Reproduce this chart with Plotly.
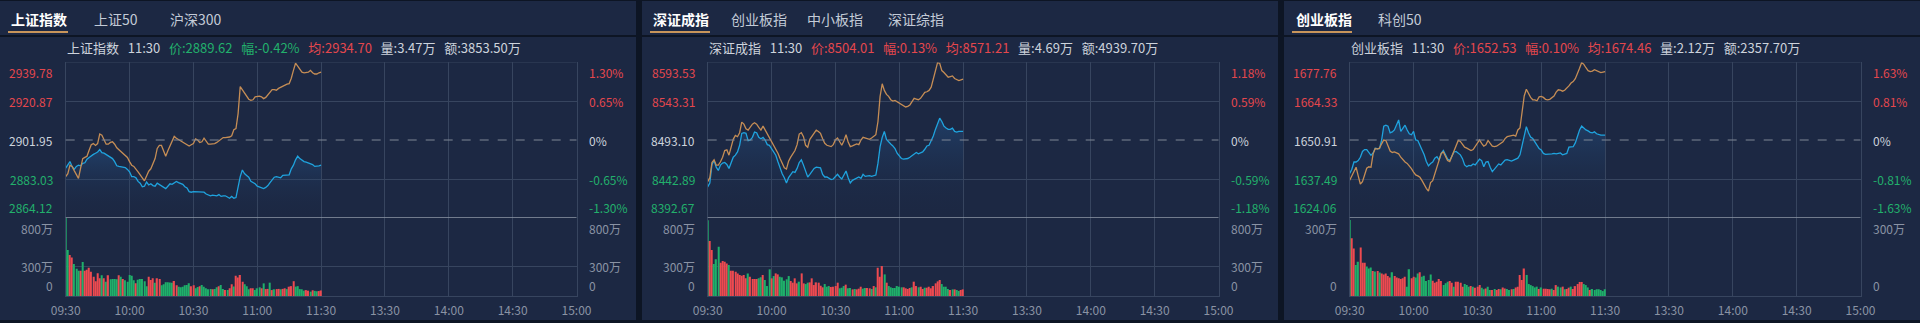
import plotly.graph_objects as go

# ---------------- data ----------------
MINUTES = list(range(121))                     # 09:30 .. 11:30, one point per minute
TIME_TICKS = [0, 30, 60, 90, 120, 150, 180, 210, 240]
TIME_LABELS = ['09:30', '10:00', '10:30', '11:00', '11:30', '13:30', '14:00', '14:30', '15:00']

# ---- 上证指数 ----
SH_TABS = ['上证指数', '上证50', '沪深300']
SH_INFO = ['上证指数', '11:30', '2889.62', '-0.42%', '2934.70', '3.47万', '3853.50万']
SH_PRICE_LABELS = ['2939.78', '2920.87', '2901.95', '2883.03', '2864.12']
SH_PCT_LABELS = ['1.30%', '0.65%', '0%', '-0.65%', '-1.30%']
SH_PCT_LEVELS = [1.30, 0.65, 0.0, -0.65, -1.30]
SH_PRICE_PCT = [
    -0.47, -0.42, -0.36, -0.44, -0.49, -0.44, -0.42, -0.43, -0.39, -0.38,
    -0.32, -0.29, -0.26, -0.24, -0.22, -0.20, -0.16, -0.21, -0.22, -0.24,
    -0.26, -0.29, -0.31, -0.36, -0.43, -0.44, -0.45, -0.46, -0.46, -0.49,
    -0.53, -0.61, -0.61, -0.63, -0.69, -0.72, -0.78, -0.77, -0.70, -0.75,
    -0.73, -0.76, -0.77, -0.72, -0.74, -0.76, -0.78, -0.81, -0.77, -0.73,
    -0.74, -0.71, -0.69, -0.71, -0.72, -0.74, -0.78, -0.80, -0.86, -0.87,
    -0.86, -0.86, -0.87, -0.86, -0.86, -0.87, -0.90, -0.92, -0.93, -0.92,
    -0.93, -0.93, -0.91, -0.94, -0.93, -0.93, -0.95, -0.97, -0.94, -0.97,
    -0.96, -0.77, -0.61, -0.50, -0.56, -0.59, -0.62, -0.69, -0.71, -0.73,
    -0.77, -0.78, -0.80, -0.81, -0.79, -0.76, -0.71, -0.67, -0.62, -0.61,
    -0.62, -0.63, -0.59, -0.59, -0.59, -0.58, -0.48, -0.42, -0.33, -0.27,
    -0.31, -0.34, -0.36, -0.37, -0.38, -0.39, -0.41, -0.44, -0.44, -0.43,
    -0.42]
SH_AVG_PCT = [
    -0.61, -0.56, -0.42, -0.44, -0.51, -0.58, -0.64, -0.47, -0.31, -0.29,
    -0.27, -0.17, -0.08, -0.06, -0.09, -0.06, 0.10, 0.08, 0.01, -0.07,
    -0.07, -0.04, -0.03, -0.07, -0.13, -0.16, -0.19, -0.23, -0.26, -0.29,
    -0.36, -0.42, -0.44, -0.48, -0.53, -0.58, -0.64, -0.68, -0.60, -0.52,
    -0.48, -0.39, -0.31, -0.14, -0.09, -0.09, -0.17, -0.27, -0.18, -0.10,
    -0.01, 0.06, 0.03, 0.01, -0.01, -0.03, -0.06, -0.08, -0.10, -0.08,
    -0.06, 0.02, 0.00, -0.04, -0.03, 0.03, -0.03, -0.07, -0.07, -0.07,
    -0.06, -0.04, -0.01, 0.02, 0.04, 0.04, 0.04, 0.05, 0.07, 0.17,
    0.19, 0.44, 0.89, 0.84, 0.77, 0.72, 0.68, 0.66, 0.67, 0.72,
    0.73, 0.73, 0.72, 0.69, 0.71, 0.76, 0.79, 0.84, 0.84, 0.83,
    0.86, 0.88, 0.90, 0.92, 0.93, 0.94, 1.03, 1.16, 1.28, 1.23,
    1.18, 1.13, 1.12, 1.12, 1.13, 1.16, 1.12, 1.10, 1.10, 1.12,
    1.13]
SH_VOL = [
    790, 465, 415, 390, 325, 275, 255, 255, 345, 255,
    265, 285, 245, 195, 150, 230, 180, 210, 180, 145,
    210, 170, 172, 172, 170, 210, 195, 172, 160, 145,
    212, 205, 160, 128, 165, 172, 172, 150, 100, 195,
    162, 180, 135, 180, 172, 110, 120, 138, 138, 136,
    135, 152, 110, 94, 88, 94, 110, 112, 128, 100,
    110, 78, 90, 100, 112, 94, 78, 68, 70, 68,
    70, 88, 100, 112, 70, 60, 62, 78, 120, 95,
    205, 188, 212, 145, 120, 100, 68, 78, 78, 60,
    78, 88, 78, 128, 70, 72, 135, 60, 68, 70,
    72, 68, 72, 78, 70, 94, 100, 150, 95, 100,
    70, 68, 54, 60, 54, 44, 58, 52, 48, 50,
    56]
SH_DIR = ("ggrrgggrgr" "rrrrrrrgrg" "rggggrgrgg" "gggrgggggr" "rrgrrggggg" "grrggggggr"
          "rggrgggggr" "ggrggrgrrg" "rrrrgggrrg" "ggrgrrgrgr" "rgrrgrrrgg" "gggrrgrggr" "r")
SH_VOL_LEVELS = [0, 300, 790]
SH_VOL_LABELS = ['0', '300万', '800万']

# ---- 深证成指 ----
SZ_TABS = ['深证成指', '创业板指', '中小板指', '深证综指']
SZ_INFO = ['深证成指', '11:30', '8504.01', '0.13%', '8571.21', '4.69万', '4939.70万']
SZ_PRICE_LABELS = ['8593.53', '8543.31', '8493.10', '8442.89', '8392.67']
SZ_PCT_LABELS = ['1.18%', '0.59%', '0%', '-0.59%', '-1.18%']
SZ_PCT_LEVELS = [1.18, 0.59, 0.0, -0.59, -1.18]
SZ_PRICE_PCT = [
    -0.71, -0.65, -0.37, -0.31, -0.41, -0.46, -0.38, -0.35, -0.34, -0.37,
    -0.43, -0.33, -0.26, -0.23, -0.18, -0.08, 0.10, 0.11, 0.10, -0.01,
    0.00, 0.04, 0.12, 0.11, 0.04, 0.02, 0.04, 0.00, -0.07, -0.08,
    -0.13, -0.18, -0.23, -0.33, -0.43, -0.51, -0.57, -0.65, -0.57, -0.52,
    -0.48, -0.49, -0.43, -0.34, -0.30, -0.38, -0.46, -0.56, -0.52, -0.47,
    -0.43, -0.41, -0.41, -0.42, -0.52, -0.56, -0.56, -0.58, -0.60, -0.59,
    -0.56, -0.52, -0.56, -0.59, -0.53, -0.47, -0.57, -0.65, -0.61, -0.59,
    -0.57, -0.56, -0.58, -0.52, -0.55, -0.54, -0.54, -0.55, -0.54, -0.53,
    -0.35, -0.10, 0.04, 0.13, 0.01, -0.03, -0.06, -0.09, -0.13, -0.20,
    -0.25, -0.28, -0.29, -0.29, -0.28, -0.26, -0.24, -0.21, -0.19, -0.21,
    -0.20, -0.18, -0.14, -0.09, -0.08, -0.02, 0.06, 0.16, 0.25, 0.33,
    0.28, 0.21, 0.18, 0.16, 0.16, 0.18, 0.13, 0.12, 0.13, 0.13,
    0.13]
SZ_AVG_PCT = [
    -0.63, -0.57, -0.34, -0.30, -0.38, -0.38, -0.33, -0.26, -0.16, -0.15,
    -0.23, -0.11, 0.01, 0.07, 0.05, 0.11, 0.27, 0.24, 0.17, 0.15,
    0.20, 0.24, 0.26, 0.24, 0.19, 0.15, 0.21, 0.15, 0.09, 0.04,
    -0.01, -0.08, -0.14, -0.20, -0.28, -0.34, -0.42, -0.44, -0.32, -0.26,
    -0.21, -0.16, -0.07, 0.09, 0.11, 0.05, -0.08, -0.11, 0.01, 0.06,
    0.11, 0.15, 0.13, 0.10, 0.02, -0.05, -0.08, -0.09, -0.10, -0.07,
    0.00, 0.03, -0.03, -0.08, -0.01, 0.08, -0.03, -0.10, -0.09, -0.08,
    -0.06, -0.07, 0.00, 0.04, 0.03, 0.01, 0.01, 0.03, 0.06, 0.08,
    0.28, 0.66, 0.85, 0.75, 0.69, 0.66, 0.61, 0.59, 0.60, 0.58,
    0.57, 0.54, 0.53, 0.50, 0.51, 0.53, 0.58, 0.63, 0.62, 0.61,
    0.63, 0.68, 0.72, 0.73, 0.75, 0.80, 0.92, 1.06, 1.17, 1.16,
    1.05, 1.02, 0.98, 0.95, 0.96, 0.97, 0.93, 0.91, 0.90, 0.91,
    0.92]
SZ_VOL = [
    768, 556, 465, 324, 371, 499, 337, 354, 347, 330,
    313, 256, 256, 246, 229, 212, 206, 212, 179, 229,
    195, 172, 172, 172, 179, 189, 212, 162, 101, 270,
    179, 202, 229, 219, 195, 189, 155, 169, 202, 152,
    135, 179, 128, 145, 229, 128, 121, 135, 138, 179,
    111, 138, 135, 104, 88, 121, 94, 101, 91, 94,
    101, 135, 78, 84, 101, 115, 78, 81, 67, 71,
    67, 74, 94, 74, 81, 81, 78, 71, 101, 88,
    286, 195, 303, 219, 135, 101, 88, 81, 81, 101,
    94, 88, 88, 78, 71, 81, 88, 145, 101, 88,
    94, 71, 84, 84, 94, 78, 101, 128, 148, 162,
    121, 94, 94, 71, 61, 67, 67, 61, 51, 61,
    67]
SZ_DIR = ("grrgggrrrr" "grrrrrrrrg" "rrrrggrggg" "rgrrgggggr" "rrrgrrggrr" "rrrrrgggrr"
          "rrgggrggrg" "rrrggrrgrg" "rrrgrggggg" "ggrrrrgrrg" "rrgrrrrrrr" "ggggrgrggr" "r")
SZ_VOL_LEVELS = [0, 300, 790]
SZ_VOL_LABELS = ['0', '300万', '800万']

# ---- 创业板指 ----
CY_TABS = ['创业板指', '科创50']
CY_INFO = ['创业板指', '11:30', '1652.53', '0.10%', '1674.46', '2.12万', '2357.70万']
CY_PRICE_LABELS = ['1677.76', '1664.33', '1650.91', '1637.49', '1624.06']
CY_PCT_LABELS = ['1.63%', '0.81%', '0%', '-0.81%', '-1.63%']
CY_PCT_LEVELS = [1.63, 0.815, 0.0, -0.815, -1.63]
CY_PRICE_PCT = [
    -0.70, -0.61, -0.46, -0.46, -0.43, -0.36, -0.24, -0.20, -0.20, -0.25,
    -0.32, -0.27, -0.17, -0.18, -0.18, 0.00, 0.29, 0.31, 0.29, 0.15,
    0.17, 0.21, 0.31, 0.42, 0.18, 0.24, 0.31, 0.21, 0.13, 0.11,
    0.18, 0.00, -0.01, -0.11, -0.20, -0.31, -0.45, -0.54, -0.49, -0.46,
    -0.38, -0.35, -0.42, -0.28, -0.22, -0.31, -0.40, -0.43, -0.34, -0.25,
    -0.24, -0.28, -0.31, -0.39, -0.52, -0.56, -0.53, -0.54, -0.50, -0.52,
    -0.46, -0.40, -0.43, -0.56, -0.46, -0.45, -0.57, -0.66, -0.61, -0.56,
    -0.50, -0.52, -0.47, -0.42, -0.41, -0.43, -0.44, -0.42, -0.40, -0.38,
    -0.31, -0.13, 0.08, 0.28, 0.15, 0.06, 0.03, -0.04, -0.13, -0.18,
    -0.21, -0.28, -0.30, -0.30, -0.29, -0.29, -0.28, -0.29, -0.28, -0.27,
    -0.31, -0.30, -0.28, -0.15, -0.14, -0.14, -0.06, 0.08, 0.21, 0.29,
    0.24, 0.21, 0.19, 0.16, 0.15, 0.17, 0.13, 0.11, 0.10, 0.10,
    0.10]
CY_AVG_PCT = [
    -0.84, -0.75, -0.66, -0.57, -0.75, -0.92, -0.87, -0.71, -0.59, -0.56,
    -0.57, -0.29, -0.18, -0.19, -0.17, -0.08, 0.00, -0.01, -0.13, -0.23,
    -0.26, -0.25, -0.27, -0.29, -0.36, -0.42, -0.46, -0.49, -0.54, -0.60,
    -0.67, -0.73, -0.75, -0.78, -0.85, -0.94, -1.01, -1.07, -0.89, -0.85,
    -0.71, -0.61, -0.45, -0.28, -0.25, -0.34, -0.43, -0.45, -0.34, -0.21,
    -0.08, -0.01, -0.03, -0.10, -0.15, -0.17, -0.20, -0.22, -0.20, -0.13,
    -0.07, 0.00, -0.07, -0.13, -0.10, -0.01, -0.07, -0.13, -0.14, -0.13,
    -0.10, -0.06, -0.04, 0.03, 0.07, 0.08, 0.09, 0.10, 0.08, 0.21,
    0.25, 0.63, 0.92, 1.06, 0.96, 0.89, 0.84, 0.84, 0.82, 0.90,
    0.91, 0.89, 0.85, 0.84, 0.85, 0.88, 0.92, 1.00, 1.05, 1.04,
    1.02, 1.04, 1.08, 1.13, 1.19, 1.22, 1.28, 1.38, 1.50, 1.62,
    1.58, 1.51, 1.45, 1.43, 1.44, 1.47, 1.45, 1.42, 1.41, 1.42,
    1.43]
CY_VOL = [
    292, 222, 183, 119, 132, 187, 128, 128, 113, 106,
    110, 96, 94, 96, 90, 87, 83, 87, 77, 71,
    91, 77, 71, 68, 65, 68, 74, 36, 103, 68,
    74, 71, 87, 91, 74, 78, 58, 62, 83, 59,
    51, 55, 65, 58, 42, 49, 55, 58, 51, 36,
    55, 55, 51, 36, 46, 42, 36, 38, 36, 32,
    36, 42, 32, 26, 29, 36, 23, 23, 27, 23,
    27, 26, 33, 29, 27, 23, 26, 27, 33, 36,
    81, 62, 106, 81, 46, 42, 38, 33, 36, 27,
    33, 28, 28, 27, 26, 28, 23, 42, 36, 33,
    36, 26, 27, 32, 36, 27, 38, 46, 54, 54,
    46, 42, 33, 23, 27, 23, 26, 26, 23, 19,
    26]
CY_DIR = ("grrggrrrgg" "grgrgrrrrr" "grrrrrrggr" "rggrgggggr" "rrrrgggrrg" "rrrrgggrgr"
          "rrggrggrgr" "rgrrggrgrr" "rrrggggggr" "grrrrgrrgg" "rgrrgrrrrr" "gggrgggggg" "g")
CY_VOL_LEVELS = [0, 300]
CY_VOL_LABELS = ['0', '300万']

PANELS = [
    dict(tabs=SH_TABS, info=SH_INFO, plabels=SH_PRICE_LABELS, pct_labels=SH_PCT_LABELS,
         levels=SH_PCT_LEVELS, price=SH_PRICE_PCT, avg=SH_AVG_PCT, vol=SH_VOL, dirs=SH_DIR,
         vlevels=SH_VOL_LEVELS, vlabels=SH_VOL_LABELS, tab_x=[9, 92, 168]),
    dict(tabs=SZ_TABS, info=SZ_INFO, plabels=SZ_PRICE_LABELS, pct_labels=SZ_PCT_LABELS,
         levels=SZ_PCT_LEVELS, price=SZ_PRICE_PCT, avg=SZ_AVG_PCT, vol=SZ_VOL, dirs=SZ_DIR,
         vlevels=SZ_VOL_LEVELS, vlabels=SZ_VOL_LABELS, tab_x=[9, 87, 163, 244]),
    dict(tabs=CY_TABS, info=CY_INFO, plabels=CY_PRICE_LABELS, pct_labels=CY_PCT_LABELS,
         levels=CY_PCT_LEVELS, price=CY_PRICE_PCT, avg=CY_AVG_PCT, vol=CY_VOL, dirs=CY_DIR,
         vlevels=CY_VOL_LEVELS, vlabels=CY_VOL_LABELS, tab_x=[10, 92]),
]

# ---------------- style / geometry ----------------
W, H = 1920, 323
FONT = "Microsoft YaHei, 'Noto Sans CJK SC', sans-serif"
OUTER = '#0d1524'
PANEL_BG = '#1c2843'
GRID = '#37455f'
SEP = '#8e97a6'
DASH = '#7e8796'
UP = '#ee4a50'
DOWN = '#1fb06a'
UP_TXT = '#e4474d'
DOWN_TXT = '#22b06c'
TXT = '#cdd3dc'
MUTED = '#8a93a4'
ORANGE = '#c58d55'
BLUE = '#1fa3de'
ACCENT = '#c8955a'

PANEL_W, PANEL_GAP = 636, 6
PLOT_L, PLOT_R = 65.7, 576.5
TOP_PRICE, SEP_Y, VOL_BOTTOM = 62, 218, 296
TAB_Y, HEADER_Y = 19, 48
LEFT_LABEL_X, RIGHT_LABEL_X = 55, 587


def px(x):
    return x / W


def py(y):
    return 1 - y / H


def sfx(n):
    return '' if n == 1 else str(n)


fig = go.Figure()
layout = dict(template='none', width=W, height=H, autosize=False,
              margin=dict(l=0, r=0, t=0, b=0, pad=0, autoexpand=False),
              paper_bgcolor=OUTER, plot_bgcolor='rgba(0,0,0,0)', showlegend=False,
              font=dict(family=FONT, color=TXT), hovermode=False)
shapes, annotations = [], []

for i, p in enumerate(PANELS):
    ox = i * (PANEL_W + PANEL_GAP)
    n_p, n_v = 2 * i + 1, 2 * i + 2
    xp, yp, xv, yv = 'x' + sfx(n_p), 'y' + sfx(n_p), 'x' + sfx(n_v), 'y' + sfx(n_v)
    top = max(p['levels'])
    half = p['levels'][1]
    vmax = max(p['vlevels'])
    dom_x = [px(ox + PLOT_L), px(ox + PLOT_R)]

    # panel backgrounds
    shapes.append(dict(type='rect', xref='paper', yref='paper', layer='below',
                       x0=px(ox), x1=px(ox + PANEL_W), y0=py(35), y1=py(1),
                       fillcolor=PANEL_BG, line=dict(width=0)))
    shapes.append(dict(type='rect', xref='paper', yref='paper', layer='below',
                       x0=px(ox), x1=px(ox + PANEL_W), y0=py(320), y1=py(37),
                       fillcolor=PANEL_BG, line=dict(width=0)))
    # active-tab underline
    shapes.append(dict(type='rect', xref='paper', yref='paper',
                       x0=px(ox + 8), x1=px(ox + 68), y0=py(33), y1=py(31),
                       fillcolor=ACCENT, line=dict(width=0)))

    common_x = dict(domain=dom_x, range=[0, 240], tickvals=TIME_TICKS, showgrid=True,
                    gridcolor=GRID, gridwidth=1, zeroline=False, ticks='', fixedrange=True,
                    automargin=False)
    layout['xaxis' + sfx(n_p)] = dict(common_x, anchor=yp, showticklabels=False, showline=False)
    layout['xaxis' + sfx(n_v)] = dict(common_x, anchor=yv, showticklabels=True,
                                      tickvals=TIME_TICKS, ticktext=TIME_LABELS,
                                      tickfont=dict(size=12, color=MUTED),
                                      showline=True, linecolor=GRID, linewidth=1,
                                      ticklabelstandoff=4)
    layout['yaxis' + sfx(n_p)] = dict(domain=[py(SEP_Y), py(TOP_PRICE)], range=[-top, top],
                                      anchor=xp, tickvals=[half, -half], showticklabels=False,
                                      showgrid=True, gridcolor=GRID, zeroline=False,
                                      showline=True, mirror=True, linecolor=GRID, ticks='',
                                      fixedrange=True, automargin=False)
    layout['yaxis' + sfx(n_v)] = dict(domain=[py(VOL_BOTTOM), py(SEP_Y)], range=[0, vmax],
                                      anchor=xv, tickvals=[v for v in p['vlevels'] if 0 < v < vmax],
                                      showticklabels=False, showgrid=True, gridcolor=GRID,
                                      zeroline=False, showline=True, mirror=True,
                                      linecolor=GRID, ticks='', fixedrange=True, automargin=False)

    # horizontal reference lines
    shapes.append(dict(type='line', xref=xp + ' domain', yref=yp, x0=0, x1=1, y0=top, y1=top,
                       line=dict(color=GRID, width=1)))
    shapes.append(dict(type='line', xref=xp + ' domain', yref=yp, x0=0, x1=1, y0=0, y1=0,
                       line=dict(color=DASH, width=1, dash='dash')))
    shapes.append(dict(type='line', xref=xp + ' domain', yref=yp, x0=0, x1=1, y0=-top, y1=-top,
                       line=dict(color=SEP, width=1.5)))

    # traces
    fig.add_trace(go.Scatter(x=[MINUTES[0], MINUTES[-1]], y=[-top, -top], mode='lines',
                             line=dict(width=0, color='rgba(0,0,0,0)'), xaxis=xp, yaxis=yp,
                             hoverinfo='skip'))
    fig.add_trace(go.Scatter(x=MINUTES, y=p['price'], mode='lines', xaxis=xp, yaxis=yp,
                             line=dict(color=BLUE, width=1.3), fill='tonexty',
                             fillgradient=dict(type='vertical',
                                               colorscale=[[0, 'rgba(28,40,67,0)'],
                                                           [1, 'rgba(38,88,145,0.45)']])))
    fig.add_trace(go.Scatter(x=MINUTES, y=p['avg'], mode='lines', xaxis=xp, yaxis=yp,
                             line=dict(color=ORANGE, width=1.3)))
    fig.add_trace(go.Bar(x=MINUTES, y=p['vol'], xaxis=xv, yaxis=yv, width=0.6,
                         marker=dict(color=[UP if d == 'r' else DOWN for d in p['dirs']],
                                     line=dict(width=0))))

    # tabs
    for k, (t, tx) in enumerate(zip(p['tabs'], p['tab_x'])):
        annotations.append(dict(xref='paper', yref='paper', x=px(ox + tx), y=py(TAB_Y),
                                xanchor='left', yanchor='middle', showarrow=False,
                                text=('<b>%s</b>' % t) if k == 0 else t,
                                font=dict(size=14, color='#ffffff' if k == 0 else '#c3cbd7')))

    # header
    name, tm, price, chg, avg, vol, amt = p['info']
    pc = DOWN_TXT if chg.startswith('-') else UP_TXT
    sp = '\u00a0' * 3
    header = (f"{name}{sp}{tm}{sp}<span style='color:{pc}'>价:{price}</span>{sp}"
              f"<span style='color:{pc}'>幅:{chg}</span>{sp}"
              f"<span style='color:{UP_TXT}'>均:{avg}</span>{sp}量:{vol}{sp}额:{amt}")
    annotations.append(dict(xref='paper', yref='paper', x=px(ox + PLOT_L - 1), y=py(HEADER_Y),
                            xanchor='left', yanchor='middle', showarrow=False, text=header,
                            font=dict(size=13, color=TXT)))

    # price / percent labels
    nlev = len(p['levels'])
    for k, (lv, lt, rt) in enumerate(zip(p['levels'], p['plabels'], p['pct_labels'])):
        col = UP_TXT if lv > 0 else (DOWN_TXT if lv < 0 else TXT)
        ya = 'top' if k == 0 else ('bottom' if k == nlev - 1 else 'middle')
        for xx, xa, txt in ((LEFT_LABEL_X, 'right', lt), (RIGHT_LABEL_X, 'left', rt)):
            annotations.append(dict(xref='paper', yref=yp, x=px(ox + xx), y=lv,
                                    xanchor=xa, yanchor=ya, showarrow=False, text=txt,
                                    font=dict(size=12, color=col)))
    # volume labels
    for vl, vt in zip(p['vlevels'], p['vlabels']):
        ya = 'top' if vl == vmax else ('bottom' if vl == 0 else 'middle')
        for xx, xa in ((LEFT_LABEL_X, 'right'), (RIGHT_LABEL_X, 'left')):
            annotations.append(dict(xref='paper', yref=yv, x=px(ox + xx), y=vl,
                                    xanchor=xa, yanchor=ya, showarrow=False, text=vt,
                                    font=dict(size=12, color=MUTED)))

layout['shapes'] = shapes
layout['annotations'] = annotations
fig.update_layout(**layout)

PAGE_FIX = (
    "var st=document.createElement('style');"
    "st.textContent='html,body{margin:0!important;padding:0!important;overflow:hidden!important;}';"
    "document.head.appendChild(st);"
)
fig.write_html("out.html", config={'responsive': False, 'displayModeBar': False},
               post_script=PAGE_FIX)
